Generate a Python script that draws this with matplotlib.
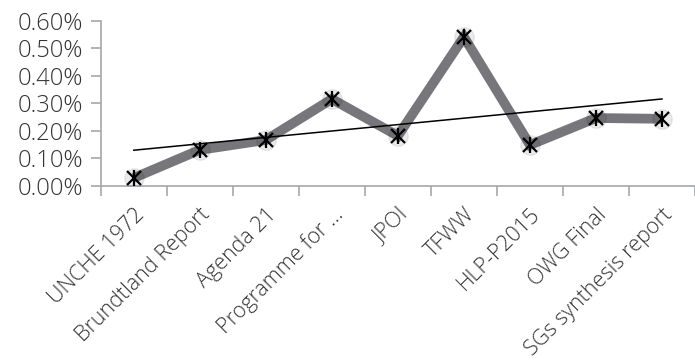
import numpy as np
from matplotlib import pyplot as plt
from matplotlib.ticker import PercentFormatter

# share of documents per milestone (percent)
labels = ["UNCHE 1972", "Brundtland Report", "Agenda 21", "Programme for ...",
          "JPOI", "TFWW", "HLP-P2015", "OWG Final", "SGs synthesis report"]
values = [0.029, 0.131, 0.167, 0.316, 0.182, 0.542, 0.149, 0.247, 0.244]
yticks = [0.0, 0.1, 0.2, 0.3, 0.4, 0.5, 0.6]


def main():
    plt.rcParams["font.family"] = ["Open Sans", "Lato", "DejaVu Sans"]
    fig = plt.figure(figsize=(6.95, 3.61), dpi=100)
    ax = fig.add_axes([0.145, 0.485, 0.855, 0.457])

    x = np.arange(len(values))
    ax.plot(x, values, color="#77777b", lw=7, solid_joinstyle="miter",
            solid_capstyle="butt", zorder=2)
    # soft halo under the markers
    ax.plot(x, values, ls="none", marker="o", ms=14, color="#000000",
            alpha=0.08, zorder=3)
    ax.plot(x, values, ls="none", marker="x", ms=10, mew=1.6, color="black", zorder=4)
    ax.plot(x, values, ls="none", marker="|", ms=11, mew=1.6, color="black", zorder=4)

    # linear trend line
    k, b = np.polyfit(x + 1, values, 1)
    ax.plot(x, k * (x + 1) + b, color="black", lw=1.1, zorder=5)

    ax.set_xlim(-0.5, len(values) - 0.5)
    ax.set_ylim(0, 0.6)
    ax.set_yticks(yticks)
    ax.yaxis.set_major_formatter(PercentFormatter(decimals=2))

    ax.set_xticks(np.arange(len(values) + 1) - 0.5, minor=True)
    ax.set_xticks(x)
    ax.set_xticklabels(labels, rotation=45, ha="right", rotation_mode="anchor",
                       fontsize=15.5, color="#333333", fontweight="light")
    ax.tick_params(axis="x", which="major", length=0, pad=13)
    ax.tick_params(axis="x", which="minor", length=7, width=1.2, color="#a6a6ae")
    ax.tick_params(axis="y", length=7, width=1.2, color="#a6a6ae",
                   labelsize=17, labelcolor="#333333", pad=6)
    for t in ax.get_yticklabels():
        t.set_fontweight("light")

    for s in ["top", "right"]:
        ax.spines[s].set_visible(False)
    for s in ["left", "bottom"]:
        ax.spines[s].set_color("#a6a6ae")
        ax.spines[s].set_linewidth(1.2)

    fig.savefig("out.png", dpi=100)


main()
